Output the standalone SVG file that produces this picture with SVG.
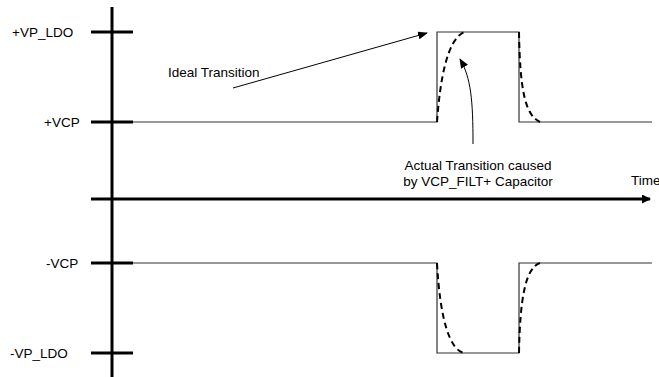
<svg xmlns="http://www.w3.org/2000/svg" width="659" height="377" viewBox="0 0 659 377">
<style>
  text { font-family: "Liberation Sans", Arial, sans-serif; font-size: 13.5px; fill: #000; }
  .axis { stroke: #000; stroke-width: 3; fill: none; }
  .wave { stroke: #333; stroke-width: 1.2; fill: none; }
  .dash { stroke: #000; stroke-width: 2; fill: none; stroke-dasharray: 6 4; }
  .ann { stroke: #000; stroke-width: 1; fill: none; }
</style>
<defs>
  <marker id="ah" markerWidth="10" markerHeight="8" refX="9" refY="4" orient="auto" markerUnits="userSpaceOnUse">
    <path d="M0,0 L10,4 L0,8 Z" fill="#000"/>
  </marker>
  <marker id="th" markerWidth="9" markerHeight="9" refX="8" refY="4.5" orient="auto" markerUnits="userSpaceOnUse">
    <path d="M0,0 L9,4.5 L0,9 Z" fill="#000"/>
  </marker>
</defs>
<g id="axes">
  <line class="axis" x1="112" y1="7" x2="112" y2="377"/>
  <line class="axis" x1="91" y1="199" x2="650" y2="199" marker-end="url(#th)"/>
  <line class="axis" x1="91" y1="32" x2="133" y2="32"/>
  <line class="axis" x1="91" y1="122" x2="133" y2="122"/>
  <line class="axis" x1="91" y1="263" x2="133" y2="263"/>
  <line class="axis" x1="91" y1="353" x2="133" y2="353"/>
</g>
<g id="labels">
  <text x="12" y="37">+VP_LDO</text>
  <text x="44" y="127">+VCP</text>
  <text x="46" y="268">-VCP</text>
  <text x="10" y="358">-VP_LDO</text>
  <text x="631" y="185">Time</text>
</g>
<g id="top-wave">
  <polyline class="wave" points="133,122 437,122 437,32 519,32 519,122 652,122"/>
  <path class="dash" d="M437,122 C440,80 447,40 464,32"/>
  <path class="dash" d="M519,32 C520,90 525,115 540,122"/>
</g>
<g id="bottom-wave">
  <polyline class="wave" points="133,263 437,263 437,353 519,353 519,263 652,263"/>
  <path class="dash" d="M437,263 C440,320 450,350 464,353"/>
  <path class="dash" d="M519,353 C520,300 525,268 540,263"/>
</g>
<g id="ideal-label">
  <text x="168" y="77">Ideal Transition</text>
</g>
<g id="actual-label">
  <text x="478" y="170" text-anchor="middle">Actual Transition caused</text>
  <text x="478" y="186" text-anchor="middle">by VCP_FILT+ Capacitor</text>
</g>
<g id="connectors">
  <line class="ann" x1="233" y1="88" x2="427" y2="33" marker-end="url(#ah)"/>
  <path class="ann" d="M473,144 C473,100 471,78 460,59" marker-end="url(#ah)"/>
</g>
</svg>
